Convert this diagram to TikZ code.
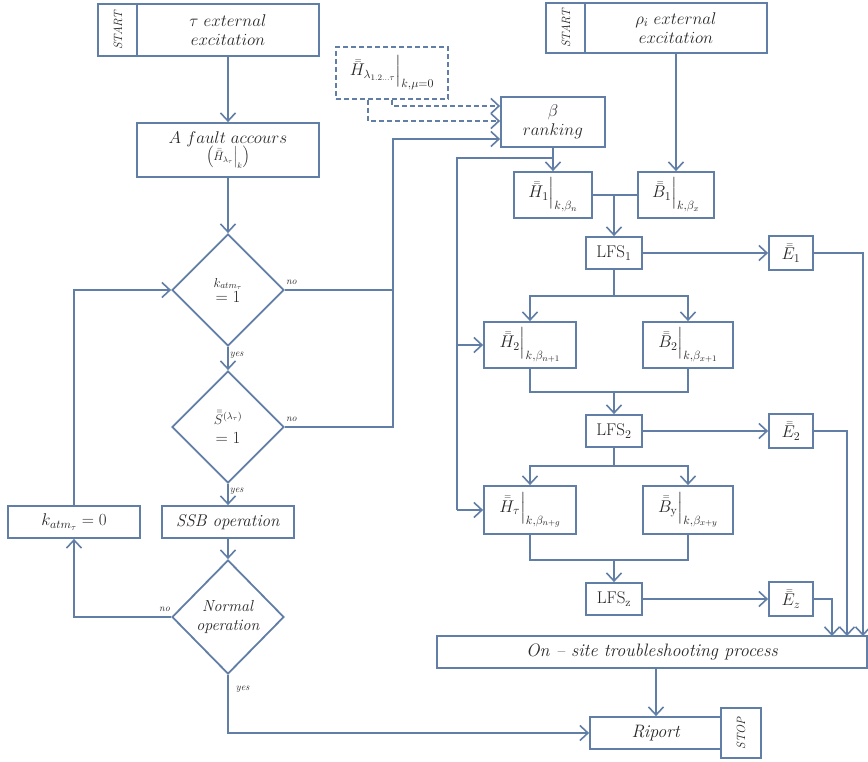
\RequirePackage{fix-cm}
\documentclass[tikz,border=0pt]{standalone}
\usepackage{amsmath}
\usetikzlibrary{shapes.geometric,arrows.meta}

\definecolor{lineblue}{RGB}{96,126,166}
\definecolor{textgray}{RGB}{40,40,40}

\tikzset{
  box/.style={draw=lineblue, line width=1.8pt, fill=white, inner sep=1pt, text=textgray,
    align=center, font=\fontsize{17}{19}\selectfont},
  dbox/.style={box, line width=1.5pt, dash pattern=on 5pt off 3pt},
  decision/.style={diamond, draw=lineblue, line width=1.8pt, inner sep=0pt, aspect=1,
    minimum width=112pt, minimum height=112pt, text=textgray, align=center,
    font=\fontsize{17}{19}\selectfont},
  flow/.style={draw=lineblue, line width=1.8pt},
  arr/.style={flow, -{Straight Barb[length=8pt,width=15pt,line width=1.6pt]}},
  dasharr/.style={arr, line width=1.5pt, dash pattern=on 5pt off 3pt},
  tag/.style={text=textgray, inner sep=1pt, font=\fontsize{10}{11}\selectfont\itshape}
}

\begin{document}
\begin{tikzpicture}[x=1pt,y=-1pt]

  \useasboundingbox (0,0) rectangle (868,762);

  % left column
  \node[box, minimum width=40pt, minimum height=52pt] (startA) at (118,30)
    {\rotatebox{90}{\fontsize{12}{13}\selectfont\textit{START}}};
  \node[box, minimum width=182pt, minimum height=52pt] (extA) at (228,30)
    {$\tau\ external$\\$excitation$};
  \node[box, minimum width=182pt, minimum height=54pt] (fault) at (228,150)
    {$A\ fault\ accours$\\[-2pt]{\fontsize{12}{13}\selectfont$\left(\bar{\bar{H}}_{\lambda_\tau}\Big|_k\right)$}};
  \node[decision] (d1) at (228,290) {{\fontsize{13}{14}\selectfont$k_{atm_\tau}$}\\[-4pt]$=1$};
  \node[decision] (d2) at (228,427) {{\fontsize{14}{15}\selectfont$\bar{\bar{S}}^{(\lambda_\tau)}$}\\$=1$};
  \node[box, minimum width=132pt, minimum height=32pt] (ssb) at (228,522) {\textit{SSB operation}};
  \node[box, minimum width=132pt, minimum height=32pt] (kzero) at (74,522) {$k_{atm_\tau}=0$};
  \node[decision, minimum height=114pt, font=\fontsize{16}{19}\selectfont] (d3) at (228,617)
    {\textit{Normal}\\\textit{operation}};
  \node[box, minimum width=132pt, minimum height=32pt, font=\fontsize{18}{20}\selectfont] (riport) at (656,733)
    {\textit{Riport}};
  \node[box, minimum width=40pt, minimum height=50pt] (stop) at (741,733)
    {\rotatebox{90}{\fontsize{12}{13}\selectfont\textit{STOP}}};
  \node[box, minimum width=430pt, minimum height=32pt, font=\fontsize{18}{20}\selectfont] (onsite) at (652,652)
    {\textit{On -- site troubleshooting process}};

  % right column
  \node[box, minimum width=40pt, minimum height=50pt] (startB) at (566,28)
    {\rotatebox{90}{\fontsize{12}{13}\selectfont\textit{START}}};
  \node[box, minimum width=182pt, minimum height=50pt] (extB) at (676,28)
    {$\rho_i\ external$\\$excitation$};
  \node[dbox, minimum width=112pt, minimum height=52pt] (hdash) at (392,73)
    {$\bar{\bar{H}}_{\lambda_{1.2\ldots\tau}}\Big|_{k,\mu=0}$};
  \node[box, minimum width=104pt, minimum height=50pt] (rank) at (553,122) {$\beta$\\$ranking$};
  \node[box, minimum width=78pt, minimum height=46pt] (h1) at (553,195) {$\bar{\bar{H}}_1\Big|_{k,\beta_n}$};
  \node[box, minimum width=76pt, minimum height=46pt] (b1) at (676,195) {$\bar{\bar{B}}_1\Big|_{k,\beta_x}$};
  \node[box, minimum width=56pt, minimum height=32pt] (lfsA) at (614,253) {$\mathrm{LFS}_1$};
  \node[box, minimum width=44pt, minimum height=34pt] (eA) at (791,253) {$\bar{\bar{E}}_1$};
  \node[box, minimum width=92pt, minimum height=46pt] (h2) at (530,345) {$\bar{\bar{H}}_2\Big|_{k,\beta_{n+1}}$};
  \node[box, minimum width=90pt, minimum height=46pt] (b2) at (688,345) {$\bar{\bar{B}}_2\Big|_{k,\beta_{x+1}}$};
  \node[box, minimum width=56pt, minimum height=32pt] (lfsB) at (614,431) {$\mathrm{LFS}_2$};
  \node[box, minimum width=44pt, minimum height=34pt] (eB) at (791,431) {$\bar{\bar{E}}_2$};
  \node[box, minimum width=92pt, minimum height=48pt] (ht) at (530,510) {$\bar{\bar{H}}_\tau\Big|_{k,\beta_{n+g}}$};
  \node[box, minimum width=90pt, minimum height=48pt] (by) at (688,510) {$\bar{\bar{B}}_{\mathrm{y}}\Big|_{k,\beta_{x+y}}$};
  \node[box, minimum width=56pt, minimum height=32pt] (lfsZ) at (614,599) {$\mathrm{LFS}_{\mathrm{z}}$};
  \node[box, minimum width=44pt, minimum height=34pt] (eZ) at (791,599) {$\bar{\bar{E}}_z$};

  \coordinate (nobus) at (393,139);
  \coordinate (feed) at (457,158);
  \coordinate (splitA) at (614,296);
  \coordinate (joinA) at (614,392);
  \coordinate (splitB) at (614,466);
  \coordinate (joinB) at (614,560);
  \coordinate (inA) at (863,636);
  \coordinate (inB) at (847,636);
  \coordinate (inZ) at (832,636);

  % left flow
  \draw[arr] (extA.south) -- (fault.north);
  \draw[arr] (fault.south) -- (d1.north);
  \draw[arr] (d1.south) -- node[tag, right, pos=0.35] (yesA) {yes} (d2.north);
  \draw[arr] (d2.south) -- node[tag, right, pos=0.35] (yesB) {yes} (ssb.north);
  \draw[arr] (ssb.south) -- (d3.north);
  \draw[arr] (d3.west) -| (kzero.south);
  \draw[arr] (kzero.north) |- (d1.west);
  \draw[arr] (d3.south) |- node[tag, right, pos=0.12, xshift=6pt] (yesC) {yes} (riport.west);
  \draw[arr] (riport.north |- onsite.south) -- (riport.north);
  \node[tag, anchor=south west, yshift=4pt] (noA) at (d1.east) {no};
  \node[tag, anchor=south west, yshift=4pt] (noB) at (d2.east) {no};
  \node[tag, anchor=south east, yshift=4pt] (noC) at (d3.west) {no};

  \draw[arr] (d2.east) -| (nobus) -- (rank.west |- nobus);
  \draw[flow] (d1.east) -- (d1.east -| nobus);
  \draw[dasharr] (hdash.south) |- ([yshift=16pt]rank.west);
  \draw[dasharr] ([xshift=-24pt]hdash.south) |- ([yshift=1pt]rank.west);

  % right flow
  \draw[arr] (extB.south) -- (b1.north);
  \draw[arr] (rank.south) -- (h1.north);
  \draw[flow] (rank.south |- feed) -- (feed) -- (feed |- ht.west);
  \draw[arr] (feed |- h2.west) -- (h2.west);
  \draw[arr] (feed |- ht.west) -- (ht.west);

  \draw[flow] (h1.east) -- (b1.west);
  \draw[arr] (lfsA.north |- h1.east) -- (lfsA.north);
  \draw[arr] (lfsA.east) -- (eA.west);
  \draw[flow] (lfsA.south) -- (splitA);
  \draw[arr] (splitA) -| (h2.north);
  \draw[arr] (splitA) -| (b2.north);

  \draw[flow] (h2.south) |- (joinA) -| (b2.south);
  \draw[arr] (joinA) -- (lfsB.north);
  \draw[arr] (lfsB.east) -- (eB.west);
  \draw[flow] (lfsB.south) -- (splitB);
  \draw[arr] (splitB) -| (ht.north);
  \draw[arr] (splitB) -| (by.north);

  \draw[flow] (ht.south) |- (joinB) -| (by.south);
  \draw[arr] (joinB) -- (lfsZ.north);
  \draw[arr] (lfsZ.east) -- (eZ.west);

  \draw[arr] (eA.east) -| (inA);
  \draw[arr] (eB.east) -| (inB);
  \draw[arr] (eZ.east) -| (inZ);

\end{tikzpicture}
\end{document}
